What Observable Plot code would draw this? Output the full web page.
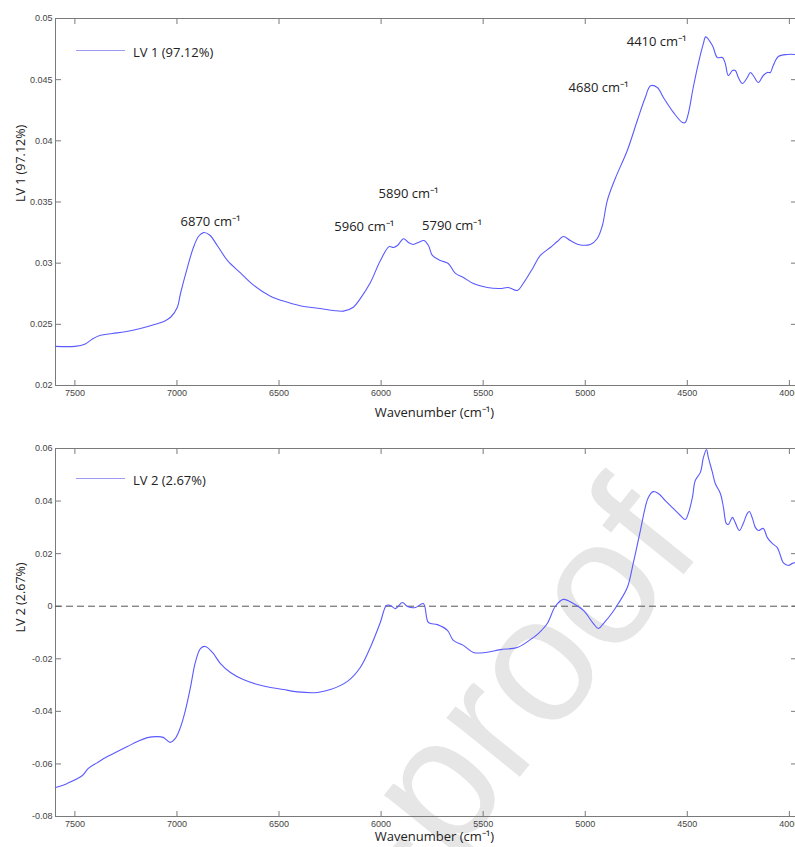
<!DOCTYPE html>
<html>
<head>
<meta charset="utf-8">
<script src="https://cdn.jsdelivr.net/npm/d3@7"></script>
<script src="https://cdn.jsdelivr.net/npm/@observablehq/plot@0.6"></script>
<style>
  body { margin: 0; background: #fff; width: 795px; height: 847px; overflow: hidden; position: relative; font-family: "Open Sans", sans-serif; }
  .panel { position: absolute; left: 0; }
  .legend { position: absolute; display: flex; align-items: center; font-size: 13px; color: #222; height: 18px; }
  .legend .swatch { width: 49px; height: 0; border-top: 1px solid #9c9cf4; margin-right: 8px; position: relative; top: -2px; }
  #watermark { position: absolute; left: 0; top: 0; }
</style>
</head>
<body>
<svg id="watermark" width="795" height="847">
  <text x="705" y="548" text-anchor="end" transform="rotate(-51 705 548)" font-family="Liberation Sans, Arial, sans-serif" font-size="178" fill="#e6e6e6">Journal Pre-proof</text>
</svg>
<div id="top" class="panel" style="top:0"></div>
<div id="bottom" class="panel" style="top:430px"></div>
<div class="legend" style="left:76px; top:43px"><span class="swatch"></span><span>LV 1 (97.12%)</span></div>
<div class="legend" style="left:76px; top:471px"><span class="swatch"></span><span>LV 2 (2.67%)</span></div>
<script>
// Wavenumber axis (cm-1), drawn high to low
const xDomain = [7595, 3970];
const xTicks = [7500, 7000, 6500, 6000, 5500, 5000, 4500, 4000];
const xTitle = "Wavenumber (cm\u207B\u00B9)";

// LV 1 loading spectrum
const lv1Label = "LV 1 (97.12%)";
const lv1Wavenumber = [7595, 7500, 7449, 7414, 7375, 7316, 7253, 7179, 7106, 7057, 7030, 6998, 6983, 6948, 6919, 6894, 6870, 6840, 6801, 6752, 6689, 6625, 6542, 6458, 6380, 6297, 6233, 6185, 6136, 6102, 6053, 6004, 5960, 5940, 5920, 5890, 5866, 5842, 5818, 5790, 5768, 5749, 5710, 5671, 5636, 5597, 5548, 5480, 5416, 5377, 5333, 5304, 5255, 5220, 5171, 5137, 5107, 5073, 5034, 4975, 4941, 4916, 4892, 4853, 4794, 4745, 4706, 4680, 4647, 4617, 4568, 4524, 4510, 4495, 4471, 4446, 4421, 4410, 4377, 4353, 4328, 4314, 4299, 4279, 4265, 4250, 4230, 4206, 4191, 4177, 4152, 4128, 4108, 4093, 4079, 4054, 4010, 3971];
const lv1Loading = [0.0232, 0.0232, 0.0234, 0.0238, 0.0241, 0.02425, 0.0244, 0.02466, 0.025, 0.0253, 0.0256, 0.0264, 0.0275, 0.0297, 0.0313, 0.0322, 0.0325, 0.0323, 0.0314, 0.0302, 0.0292, 0.0282, 0.0273, 0.0268, 0.02646, 0.0263, 0.02613, 0.02608, 0.0264, 0.0271, 0.0284, 0.0302, 0.03136, 0.03128, 0.03144, 0.0320, 0.03169, 0.03153, 0.03169, 0.03185, 0.03144, 0.03063, 0.03022, 0.02997, 0.02916, 0.02883, 0.02834, 0.02801, 0.02793, 0.02801, 0.02777, 0.02834, 0.02965, 0.03063, 0.03128, 0.03177, 0.03218, 0.03185, 0.03153, 0.03153, 0.03202, 0.03308, 0.03512, 0.03692, 0.03921, 0.04166, 0.04354, 0.0445, 0.04436, 0.04354, 0.04232, 0.0415, 0.0415, 0.04223, 0.04436, 0.04632, 0.04796, 0.0485, 0.04779, 0.04681, 0.04681, 0.04632, 0.04534, 0.04575, 0.04575, 0.04518, 0.04469, 0.04518, 0.04559, 0.04534, 0.04477, 0.04534, 0.04559, 0.04559, 0.04616, 0.04689, 0.04706, 0.04706];
const lv1Domain = [0.02, 0.05];
const lv1Ticks = [0.02, 0.025, 0.03, 0.035, 0.04, 0.045, 0.05];
const lv1Peaks = [6870, 5960, 5890, 5790, 4680, 4410];

// LV 2 loading spectrum
const lv2Label = "LV 2 (2.67%)";
const lv2Wavenumber = [7595, 7537, 7463, 7434, 7390, 7341, 7292, 7243, 7194, 7145, 7096, 7067, 7033, 7008, 6983, 6959, 6934, 6910, 6885, 6861, 6826, 6787, 6738, 6675, 6606, 6542, 6479, 6410, 6312, 6248, 6165, 6102, 6053, 6004, 5974, 5955, 5930, 5896, 5871, 5832, 5793, 5768, 5724, 5675, 5646, 5597, 5548, 5489, 5416, 5333, 5269, 5230, 5186, 5147, 5107, 5058, 5009, 4960, 4936, 4911, 4867, 4838, 4794, 4765, 4730, 4706, 4691, 4667, 4642, 4608, 4569, 4534, 4510, 4495, 4475, 4461, 4436, 4421, 4406, 4397, 4377, 4363, 4338, 4323, 4309, 4299, 4279, 4265, 4245, 4226, 4206, 4196, 4181, 4167, 4152, 4128, 4108, 4084, 4059, 4044, 4030, 4005, 3985, 3971];
const lv2Loading = [-0.069, -0.0674, -0.0644, -0.0617, -0.0595, -0.0572, -0.0553, -0.0534, -0.0515, -0.05, -0.0496, -0.0499, -0.0518, -0.0503, -0.0461, -0.0397, -0.0309, -0.0214, -0.0161, -0.0153, -0.0176, -0.0218, -0.0252, -0.0279, -0.0298, -0.0309, -0.0317, -0.0326, -0.0328, -0.0317, -0.0286, -0.0233, -0.0157, -0.0062, 0.0003, 0.0003, -0.0009, 0.0014, -0.0001, -0.0005, 0.001, -0.0062, -0.007, -0.0092, -0.013, -0.0149, -0.0176, -0.0176, -0.0165, -0.0157, -0.0127, -0.0104, -0.0066, -0.0001, 0.0026, 0.001, -0.0016, -0.0066, -0.0085, -0.0066, -0.0024, 0.001, 0.0071, 0.0163, 0.0288, 0.0376, 0.0414, 0.0436, 0.0429, 0.0402, 0.0372, 0.0345, 0.033, 0.0353, 0.0414, 0.0478, 0.0509, 0.0566, 0.0596, 0.0566, 0.0509, 0.0467, 0.0429, 0.0376, 0.0315, 0.0311, 0.0338, 0.0318, 0.0288, 0.0315, 0.0353, 0.036, 0.0334, 0.03, 0.0288, 0.0296, 0.0261, 0.0239, 0.0223, 0.0193, 0.0166, 0.0155, 0.0163, 0.0166];
const lv2Domain = [-0.08, 0.06];
const lv2Ticks = [-0.08, -0.06, -0.04, -0.02, 0, 0.02, 0.04, 0.06];

const lineColor = "#5a5aff";
const axisGray = "#7a7a7a";
const textFont = "Open Sans, sans-serif";

// Offsets of each peak label from its point on the curve
const peakLabelOffset = {6870: [7, -11], 5960: [-25, -20], 5890: [5, -45], 5790: [28, -15], 4680: [-52, 2], 4410: [-49, 5]};

function panel({wn, val, yDomain, yTicks, yLabel, height, marginBottom, titleDy, extra = []}) {
  const data = wn.map((w, i) => ({w, v: val[i]}));
  return Plot.plot({
    width: 795,
    height,
    marginLeft: 55,
    marginRight: 0,
    marginTop: 18,
    marginBottom,
    style: {background: "transparent", fontFamily: "Liberation Sans, Arial, sans-serif", fontSize: "9px", color: "#444", overflow: "visible"},
    x: {domain: xDomain},
    y: {domain: yDomain},
    marks: [
      // frame: top, bottom and left edges
      Plot.ruleY(yDomain, {stroke: axisGray}),
      Plot.ruleX([xDomain[0]], {stroke: axisGray}),
      // inward ticks on all sides
      Plot.axisX(xTicks, {anchor: "bottom", tickSize: -5, tickFormat: () => "", label: null, stroke: axisGray}),
      Plot.axisX(xTicks, {anchor: "top", tickSize: -5, tickFormat: () => "", label: null, stroke: axisGray}),
      Plot.axisY(yTicks, {anchor: "left", tickSize: -6, tickFormat: () => "", label: null, stroke: axisGray}),
      Plot.axisY(yTicks, {anchor: "right", tickSize: -5, tickFormat: () => "", label: null, stroke: axisGray}),
      // tick labels
      Plot.axisX(xTicks, {anchor: "bottom", tickSize: 0, tickPadding: 4, label: null, fill: "#444", tickFormat: (d) => String(d)}),
      Plot.axisY(yTicks, {anchor: "left", tickSize: 0, tickPadding: 3, label: null, fill: "#444", tickFormat: (d) => String(d)}),
      ...extra,
      Plot.line(data, {x: "w", y: "v", stroke: lineColor, strokeWidth: 1.1, curve: "catmull-rom"}),
      // axis titles
      Plot.text([xTitle], {frameAnchor: "bottom", dy: titleDy, dx: 9, fontSize: 13, fontFamily: textFont, fill: "#222"}),
      Plot.text([yLabel], {frameAnchor: "left", rotate: -90, dx: -35, fontSize: 12.5, fontFamily: textFont, fill: "#222"})
    ]
  });
}

const valueAt = (wn, val, w) => val[wn.indexOf(w)];
const peakLabels = lv1Peaks.map((p) => Plot.text([p], {
  x: (d) => d,
  y: (d) => valueAt(lv1Wavenumber, lv1Loading, d),
  text: (d) => `${d} cm\u207B\u00B9`,
  dx: peakLabelOffset[p][0],
  dy: peakLabelOffset[p][1],
  fontSize: 13,
  fontFamily: textFont,
  fill: "#222"
}));

document.getElementById("top").append(panel({
  wn: lv1Wavenumber, val: lv1Loading, yDomain: lv1Domain, yTicks: lv1Ticks, yLabel: lv1Label,
  height: 430, marginBottom: 45, titleDy: 31, extra: peakLabels
}));

document.getElementById("bottom").append(panel({
  wn: lv2Wavenumber, val: lv2Loading, yDomain: lv2Domain, yTicks: lv2Ticks, yLabel: lv2Label,
  height: 417, marginBottom: 31, titleDy: 24,
  extra: [Plot.ruleY([0], {stroke: "#555", strokeDasharray: "7,4"})]
}));
</script>
</body>
</html>
